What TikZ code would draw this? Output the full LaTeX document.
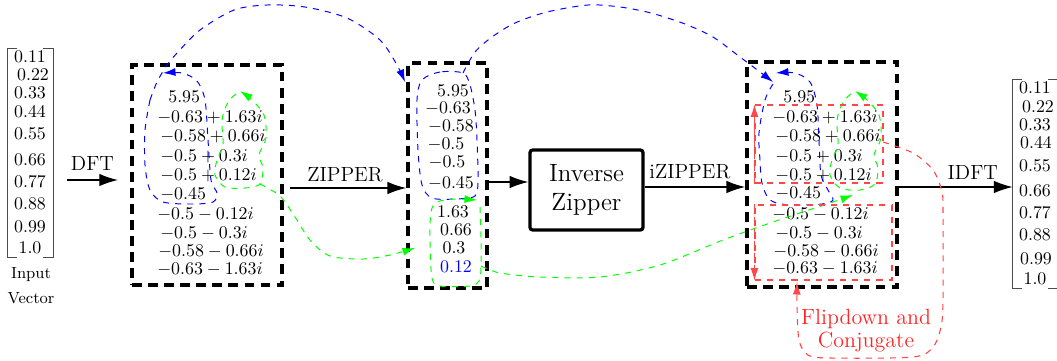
\documentclass[tikz,border=0pt]{standalone}
\usetikzlibrary{arrows.meta,fit}
\begin{document}
\begin{tikzpicture}[x=0.56pt,y=-0.56pt]
\tikzset{
 row/.style={anchor=west, inner sep=0pt, font=\fontsize{10}{12}\selectfont},
 vrow/.style={inner sep=0pt, font=\fontsize{10}{12}\selectfont},
 bigbox/.style={draw, line width=2pt, dash pattern=on 5.5pt off 3.5pt, inner sep=0pt},
 lab/.style={font=\fontsize{11.5}{14}\selectfont, inner sep=1pt},
 blk/.style={line width=0.75pt, -{Latex[length=10.5pt,width=7pt]}},
 cdash/.style={line width=0.55pt, dash pattern=on 3.4pt off 3.4pt},
 ctip/.style={-{Latex[length=7pt,width=4.5pt]}},
 bl/.style={cdash, draw=blue},
 gr/.style={cdash, draw=green},
 rd/.style={cdash, line width=0.6pt, draw=red!72},
 brk/.style={draw=black!70, line width=0.8pt},
}
\useasboundingbox (0,0) rectangle (1057,360);

% ---------- input vector ----------
\node[fit={(8,49) (53,257)}, inner sep=0pt] (invec) {};
\draw[brk] ([xshift=5pt]invec.north west) -- (invec.north west) -- (invec.south west) -- ([xshift=5pt]invec.south west);
\draw[brk] ([xshift=-6pt]invec.north east) -- (invec.north east) -- (invec.south east) -- ([xshift=-6pt]invec.south east);
\node[vrow] (i1) at (30,57) {$0.11$};
\node[vrow] (i2) at (33,75) {$0.22$};
\node[vrow] (i3) at (30,93) {$0.33$};
\node[vrow] (i4) at (30,112) {$0.44$};
\node[vrow] (i5) at (30,134) {$0.55$};
\node[vrow] (i6) at (30,160) {$0.66$};
\node[vrow] (i7) at (30,182) {$0.77$};
\node[vrow] (i8) at (30,204) {$0.88$};
\node[vrow] (i9) at (30,227) {$0.99$};
\node[vrow] (i10) at (30,248) {$1.0$};
\node[font=\small, inner sep=0pt] (inlab1) at (31,275) {Input};
\node[font=\small, inner sep=0pt] (inlab2) at (31,298) {Vector};

% ---------- output vector ----------
\node[fit={(1013,80) (1062,288)}, inner sep=0pt] (outvec) {};
\draw[brk] ([xshift=5pt]outvec.north west) -- (outvec.north west) -- (outvec.south west) -- ([xshift=5pt]outvec.south west);
\draw[brk] ([xshift=-8pt]outvec.north east) -- (outvec.north east) -- (outvec.south east) -- ([xshift=-8pt]outvec.south east);
\node[vrow] (o1) at (1035,88) {$0.11$};
\node[vrow] (o2) at (1038,107) {$0.22$};
\node[vrow] (o3) at (1035,125) {$0.33$};
\node[vrow] (o4) at (1036,143) {$0.44$};
\node[vrow] (o5) at (1035,166) {$0.55$};
\node[vrow] (o6) at (1035,191) {$0.66$};
\node[vrow] (o7) at (1035,213) {$0.77$};
\node[vrow] (o8) at (1035,235) {$0.88$};
\node[vrow] (o9) at (1036,259) {$0.99$};
\node[vrow] (o10) at (1035,279) {$1.0$};

% ---------- boxes ----------
\node[bigbox, fit={(132,65) (282,285)}] (box1) {};
\node[bigbox, fit={(408,63) (487,288)}] (box2) {};
\node[bigbox, fit={(747,62) (897,287)}] (box3) {};
\node[draw, line width=1.8pt, rounded corners=1.5pt, minimum width=63.3pt, minimum height=44.8pt,
      align=center, font=\fontsize{14}{16}\selectfont] (iz) at (586.5,190) {Inverse\\Zipper};

% ---------- box 1 rows ----------
\node[row] (a1) at (168,97) {$5.95$};
\node[row] (a2) at (157,117) {$-0.63+1.63i$};
\node[row] (a3) at (160,136) {$-0.58+0.66i$};
\node[row] (a4) at (160,156) {$-0.5+0.3i$};
\node[row] (a5) at (160,175) {$-0.5+0.12i$};
\node[row] (a6) at (160,194) {$-0.45$};
\node[row] (a7) at (157,214) {$-0.5-0.12i$};
\node[row] (a8) at (160,233) {$-0.5-0.3i$};
\node[row] (a9) at (158,251) {$-0.58-0.66i$};
\node[row] (a10) at (157,269) {$-0.63-1.63i$};

% ---------- box 3 rows ----------
\node[row] (c1) at (783,97) {$5.95$};
\node[row] (c2) at (772,117) {$-0.63+1.63i$};
\node[row] (c3) at (775,136) {$-0.58+0.66i$};
\node[row] (c4) at (775,156) {$-0.5+0.3i$};
\node[row] (c5) at (775,175) {$-0.5+0.12i$};
\node[row] (c6) at (775,193) {$-0.45$};
\node[row] (c7) at (772,214) {$-0.5-0.12i$};
\node[row] (c8) at (775,233) {$-0.5-0.3i$};
\node[row] (c9) at (773,251) {$-0.58-0.66i$};
\node[row] (c10) at (772,268) {$-0.63-1.63i$};

% ---------- box 2 rows ----------
\node[vrow] (b1) at (453,91) {$5.95$};
\node[vrow] (b2) at (448,108) {$-0.63$};
\node[vrow] (b3) at (451,126) {$-0.58$};
\node[vrow] (b4) at (446,144) {$-0.5$};
\node[vrow] (b5) at (447,162) {$-0.5$};
\node[vrow] (b6) at (451,183) {$-0.45$};
\node[vrow] (b7) at (453,212) {$1.63$};
\node[vrow] (b8) at (456,230) {$0.66$};
\node[vrow] (b9) at (454,248) {$0.3$};
\node[vrow, text=blue] (b10) at (456,267) {$0.12$};

% ---------- main arrows ----------
\coordinate (dftA) at (67,180);
\coordinate (dftB) at (118,180);
\draw[blk] (dftA) -- node[lab, above=4pt] (dftlab) {DFT} (dftB);
\coordinate (zipy) at (0,188);
\draw[blk, shorten <=3.4pt] (box1.east |- zipy) -- node[lab, above=2pt] (ziplab) {ZIPPER} (box2.west |- zipy);
\coordinate (izy) at (0,182);
\draw[blk] (box2.east |- izy) -- (iz.west |- izy);
\coordinate (izipy) at (0,187);
\draw[blk] (iz.east |- izipy) -- node[lab, above=3pt, pos=0.45] (iziplab) {iZIPPER} (box3.west |- izipy);
\draw[blk] (box3.east |- izipy) -- node[lab, above=3pt, pos=0.65] (idftlab) {IDFT} (outvec.west |- izipy);

% ---------- blue loops and arcs ----------
\draw[bl, ctip] plot[smooth] coordinates {(150,100) (145,130) (145,165) (150,190) (163,202) (192,204) (213,202) (217,193) (211,180) (208,140) (205,100) (197,81) (182,73) (163,73)};
\draw[bl, ctip] plot[smooth] coordinates {(150,100) (157,82) (167,65) (178,52) (200,30) (234,10) (267,5) (305,7) (347,18) (380,40) (397,65) (405,82)};
\draw[bl] plot[smooth cycle] coordinates {(463,73) (440,72) (422,80) (417,100) (418,150) (422,185) (432,198) (455,199) (475,196) (478,180) (477,140) (475,110) (470,85)};
\draw[bl, ctip] plot[smooth] coordinates {(463,73) (475,52) (492,37) (515,23) (547,12) (588,5) (620,7) (651,13) (685,24) (713,37) (740,57) (760,72) (773,82)};
\draw[bl, ctip] plot[smooth] coordinates {(773,84) (765,100) (759,133) (760,160) (762,183) (770,200) (790,205) (822,204) (833,200) (828,190) (821,175) (819,140) (817,105) (810,82) (795,73) (776,73)};

% ---------- green loops and curves ----------
\draw[gr, ctip] plot[smooth] coordinates {(236,94) (228,102) (222,120) (223,145) (217,160) (215,175) (225,187) (245,188) (260,184) (263,168) (259,155) (266,138) (264,115) (252,100) (240,91)};
\draw[gr, ctip] plot[smooth] coordinates {(260,184) (280,196) (295,217) (310,240) (330,256) (363,259) (390,255) (415,248)};
\draw[gr, ctip] plot[smooth] coordinates {(480,207) (481,240) (481,268) (479,281) (470,286) (440,286) (432,278) (430,240) (431,212) (437,202) (455,199) (477,200)};
\draw[gr, ctip] plot[smooth] coordinates {(481,266) (500,273) (540,277) (600,277) (660,265) (723,240) (773,222) (830,203) (853,195)};
\draw[gr, ctip] plot[smooth] coordinates {(851,94) (843,102) (837,120) (838,145) (832,160) (830,175) (840,188) (860,190) (875,184) (878,168) (874,155) (881,138) (879,115) (867,100) (855,91)};

% ---------- red flip / conjugate ----------
\node[rd, draw, fit={(755,105) (883,183)}, inner sep=0pt] (fup) {};
\node[rd, draw, fit={(755,205) (892,280)}, inner sep=0pt] (fdn) {};
\draw[rd, fill=red!80, ctip] (fup.south west) -- (fup.north west);
\draw[rd, fill=red!80, ctip] (fdn.north west) -- (fdn.south west);
\coordinate (flipin) at (797,282);
\draw[rd, ctip] plot[smooth] coordinates {(883,142) (913,153) (933,170) (942,192) (943,215) (943,300) (941,327) (933,347) (913,357) (830,358) (808,355) (799,340) (797,305) (flipin)};
\node[font=\fontsize{12.3}{13}\selectfont, text=red!85, align=center, inner sep=0pt] (flip) at (866,331) {Flipdown and\\Conjugate};
\end{tikzpicture}
\end{document}
